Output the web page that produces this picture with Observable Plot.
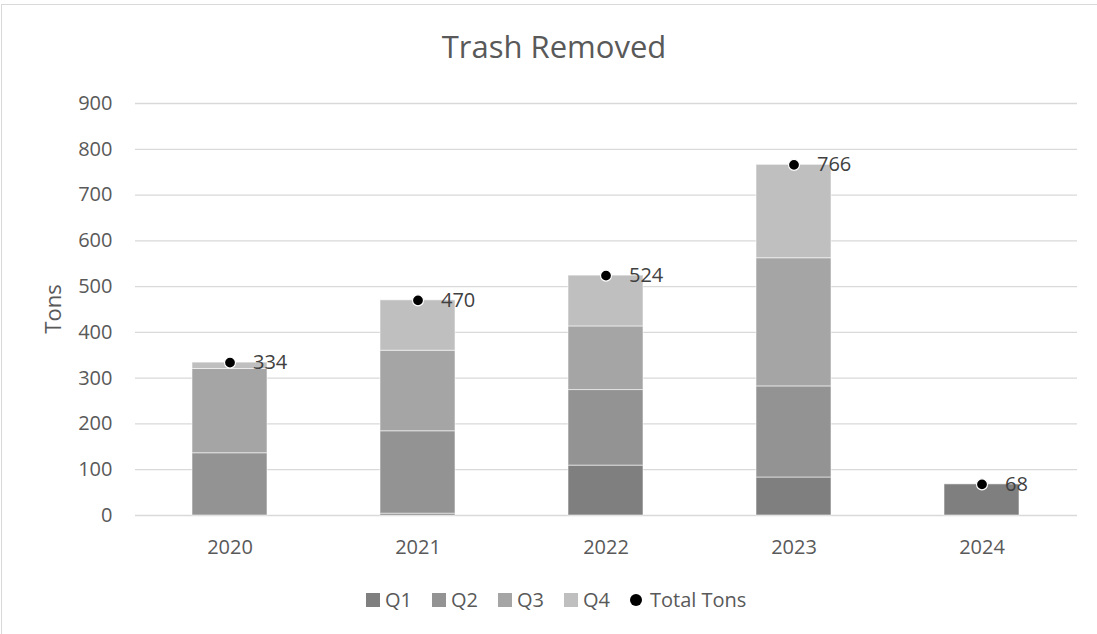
<!DOCTYPE html>
<html>
<head>
<meta charset="utf-8">
<script src="https://cdn.jsdelivr.net/npm/d3@7"></script>
<script src="https://cdn.jsdelivr.net/npm/@observablehq/plot@0.6"></script>
<style>
  html, body { margin: 0; padding: 0; background: #fff; width: 1097px; height: 634px; overflow: hidden; }
  body { position: relative; font-family: "Open Sans", sans-serif; color: #595959; }
  #frame { position: absolute; left: 1px; top: 4px; width: 1096px; height: 630px; border-top: 1.5px solid #d9d9d9; border-left: 1.5px solid #d9d9d9; box-sizing: border-box; }
  #title { position: absolute; left: 0; top: 31px; width: 1108px; text-align: center; font-size: 31px; line-height: 31px; color: #595959; }
  #ylabel { position: absolute; left: 2px; top: 298px; width: 100px; height: 22px; line-height: 22px; text-align: center; font-size: 22px; transform: rotate(-90deg); transform-origin: 50% 50%; color: #595959; }
  #chart { position: absolute; left: 0; top: 80px; }
  #legend { position: absolute; left: 366px; top: 586px; display: flex; align-items: center; font-size: 20px; line-height: 28px; color: #595959; }
  .item { display: flex; align-items: center; margin-right: 20px; }
  .sw { width: 14px; height: 14px; margin-right: 5px; }
  .dotsw { width: 12px; height: 12px; border-radius: 50%; background: #000; margin-right: 8px; }
</style>
</head>
<body>
<div id="frame"></div>
<div id="title">Trash Removed</div>
<div id="ylabel">Tons</div>
<div id="chart"></div>
<div id="legend"></div>
<script>
const years = ["2020", "2021", "2022", "2023", "2024"];
const quarters = ["Q1", "Q2", "Q3", "Q4"];
const q1 = [0, 4, 109, 83, 68];
const q2 = [136, 180, 165, 199, 0];
const q3 = [184, 176, 139, 280, 0];
const q4 = [14, 110, 111, 204, 0];
const totals = [334, 470, 524, 766, 68];
const yTicks = [0, 100, 200, 300, 400, 500, 600, 700, 800, 900];
const quarterColors = ["#7f7f7f", "#939393", "#a5a5a5", "#bfbfbf"];
const totalLabel = "Total Tons";

const series = [q1, q2, q3, q4];
const rows = [];
years.forEach((y, i) => {
  quarters.forEach((q, j) => {
    const v = series[j][i];
    if (v > 0) rows.push({year: y, quarter: q, value: v});
  });
});
const totalRows = years.map((y, i) => ({year: y, total: totals[i]}));

const plot = Plot.plot({
  width: 1097,
  height: 485,
  marginTop: 23,
  marginBottom: 50,
  marginLeft: 135,
  marginRight: 20,
  style: {fontFamily: "Open Sans, sans-serif", fontSize: "20px", color: "#595959", background: "transparent", overflow: "visible"},
  x: {domain: years, paddingInner: 0.6, paddingOuter: 0.3, label: null},
  y: {domain: [0, 900], label: null},
  color: {domain: quarters, range: quarterColors},
  marks: [
    Plot.gridY(yTicks, {stroke: "#d9d9d9", strokeOpacity: 1, strokeWidth: 1.3}),
    Plot.axisY(yTicks, {tickSize: 0, tickPadding: 23, label: null, fontSize: 20}),
    Plot.axisX({tickSize: 0, tickPadding: 24, label: null, fontSize: 20}),
    Plot.barY(rows, {x: "year", y: "value", fill: "quarter", stroke: "#ffffff", strokeOpacity: 0.55, strokeWidth: 1, order: quarters}),
    Plot.dot(totalRows, {x: "year", y: "total", r: 5.5, fill: "#000", stroke: "#fff", strokeWidth: 1.2}),
    Plot.text(totalRows, {x: "year", y: "total", text: d => String(d.total), dx: 23, textAnchor: "start", fill: "#404040", fontSize: 20})
  ]
});
document.getElementById("chart").appendChild(plot);

const legend = document.getElementById("legend");
quarters.forEach((q, i) => {
  const it = document.createElement("div");
  it.className = "item";
  const sw = document.createElement("div");
  sw.className = "sw";
  sw.style.background = quarterColors[i];
  const t = document.createElement("span");
  t.textContent = q;
  it.appendChild(sw); it.appendChild(t);
  legend.appendChild(it);
});
const it = document.createElement("div");
it.className = "item";
const ds = document.createElement("div");
ds.className = "dotsw";
const t = document.createElement("span");
t.textContent = totalLabel;
it.appendChild(ds); it.appendChild(t);
legend.appendChild(it);
</script>
</body>
</html>
